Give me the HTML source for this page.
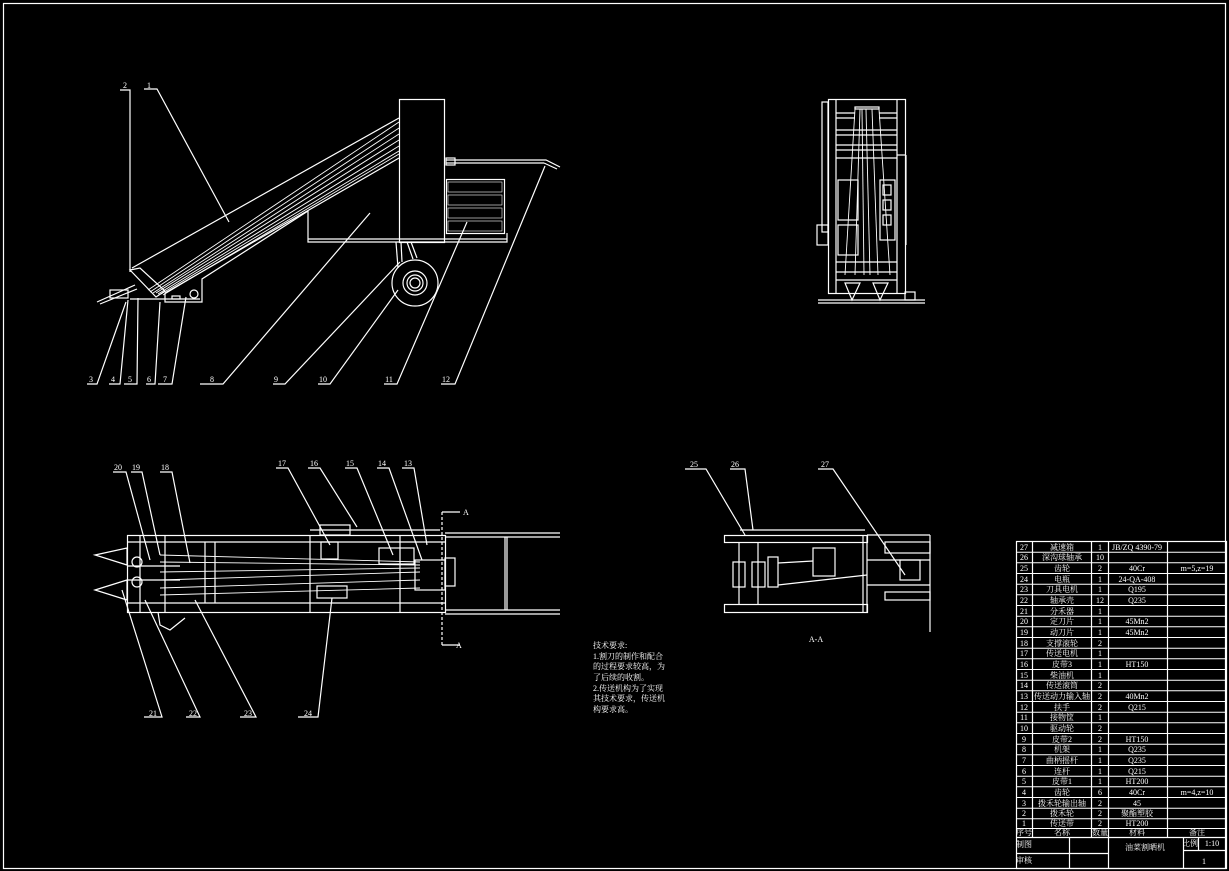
<!DOCTYPE html>
<html><head><meta charset="utf-8"><style>
html,body{margin:0;padding:0;background:#000;}
svg{display:block}
text{font-family:"Liberation Serif","Noto Serif CJK SC","WenQuanYi Zen Hei",serif;fill:#fff;font-size:8px}
.c{text-anchor:middle}
</style></head><body>
<svg width="1229" height="871" viewBox="0 0 1229 871" xmlns="http://www.w3.org/2000/svg">
<g stroke="#fff" stroke-width="1.2" fill="none">
<rect x="3.5" y="3.5" width="1222" height="865"/>

<!-- ===== Side view ===== -->
<rect x="399.5" y="99.5" width="45" height="143"/>
<polyline points="308,211 308,242 507,242 507,233"/>
<line x1="308" y1="239" x2="507" y2="239"/>
<rect x="446.5" y="179.5" width="58" height="54"/>
<g stroke-width="0.6">
<rect x="448" y="182" width="54" height="10"/><rect x="448" y="195" width="54" height="10"/>
<rect x="448" y="208" width="54" height="10"/><rect x="448" y="221" width="54" height="10"/>
</g>
<polyline points="446,160 546,160 560,167"/><line x1="446" y1="163" x2="544" y2="163"/>
<line x1="544" y1="163" x2="557" y2="169"/>
<rect x="446" y="158" width="9" height="7"/>
<line x1="132" y1="268" x2="399" y2="118"/>
<line x1="165" y1="293" x2="399" y2="158"/>
<g stroke-width="0.9">
<line x1="148" y1="290" x2="399" y2="122"/><line x1="150" y1="292" x2="399" y2="128"/>
<line x1="153" y1="293" x2="399" y2="134"/><line x1="156" y1="293" x2="399" y2="140"/>
<line x1="158" y1="294" x2="399" y2="146"/><line x1="161" y1="294" x2="399" y2="151"/>
<line x1="163" y1="295" x2="399" y2="154"/>
</g>
<polygon points="130,270 140,268 165,291 156,297"/>
<polyline points="165,293 165,302 202,302 202,279 308,211"/>
<line x1="97" y1="302" x2="135" y2="285"/><line x1="100" y1="304" x2="137" y2="289"/>
<rect x="110" y="290" width="18" height="8"/>
<line x1="130" y1="299" x2="200" y2="299"/>
<circle cx="194" cy="294" r="4"/><rect x="172" y="296" width="8" height="3"/>
<circle cx="415" cy="283" r="23"/><circle cx="415" cy="283" r="12"/>
<circle cx="415" cy="283" r="8"/><circle cx="415" cy="283" r="5"/>
<line x1="396" y1="242" x2="398" y2="268"/><line x1="401" y1="242" x2="402" y2="262"/>
<line x1="407" y1="242" x2="413" y2="259"/><line x1="411" y1="242" x2="417" y2="258"/>
<polyline points="120,90 130,90 130,272"/>
<polyline points="144,89 157,89 229,222"/>
<polyline points="87,384 97,384 126,302"/>
<polyline points="109,384 120,384 128,300"/>
<polyline points="124,384 137,384 138,298"/>
<polyline points="146,384 155,384 160,302"/>
<polyline points="158,384 172,384 186,297"/>
<polyline points="200,384 223,384 370,213"/>
<polyline points="273,384 285,384 400,262"/>
<polyline points="318,384 330,384 398,290"/>
<polyline points="384,384 397,384 467,222"/>
<polyline points="441,384 455,384 545,166"/>

<!-- ===== Upper right view ===== -->
<rect x="828.5" y="99.5" width="77" height="194"/>
<line x1="836" y1="99" x2="836" y2="294"/><line x1="897" y1="99" x2="897" y2="294"/>
<rect x="855" y="107" width="24" height="2"/>
<line x1="836" y1="113" x2="855" y2="113"/><line x1="879" y1="113" x2="897" y2="113"/>
<line x1="836" y1="118" x2="855" y2="118"/><line x1="879" y1="118" x2="897" y2="118"/>
<line x1="836" y1="130" x2="897" y2="130"/><line x1="836" y1="135" x2="897" y2="135"/>
<line x1="836" y1="145" x2="897" y2="145"/><line x1="836" y1="150" x2="897" y2="150"/>
<line x1="836" y1="158" x2="897" y2="158"/>
<rect x="838" y="180" width="20" height="40"/><rect x="880" y="180" width="15" height="60"/>
<rect x="838" y="225" width="20" height="30"/>
<rect x="883" y="185" width="8" height="10"/><rect x="883" y="200" width="8" height="10"/><rect x="883" y="215" width="8" height="10"/>
<line x1="897" y1="155" x2="906" y2="155"/><line x1="906" y1="155" x2="906" y2="245"/>
<line x1="836" y1="262" x2="897" y2="262"/><line x1="836" y1="272" x2="897" y2="272"/>
<g stroke-width="0.9">
<line x1="855" y1="109" x2="845" y2="275"/><line x1="860" y1="109" x2="855" y2="275"/>
<line x1="866" y1="109" x2="870" y2="275"/><line x1="872" y1="109" x2="878" y2="275"/>
<line x1="879" y1="109" x2="890" y2="275"/><line x1="862" y1="109" x2="864" y2="275"/>
</g>
<rect x="822" y="102" width="6" height="130"/>
<rect x="817" y="225" width="11" height="20"/>
<polygon points="845,283 860,283 852,300"/><polygon points="873,283 888,283 880,300"/>
<line x1="818" y1="300" x2="925" y2="300"/><line x1="818" y1="303" x2="925" y2="303"/>
<line x1="836" y1="280" x2="897" y2="280"/>
<rect x="905" y="292" width="10" height="8"/>

<!-- ===== Plan view ===== -->
<rect x="127.5" y="535.5" width="318" height="77"/>
<line x1="127" y1="542" x2="445" y2="542"/><line x1="127" y1="603" x2="445" y2="603"/>
<line x1="127" y1="566" x2="180" y2="566"/><line x1="127" y1="580" x2="180" y2="580"/>
<line x1="140" y1="535" x2="140" y2="612"/><line x1="165" y1="535" x2="165" y2="612"/>
<line x1="205" y1="542" x2="205" y2="603"/><line x1="215" y1="542" x2="215" y2="603"/>
<line x1="310" y1="535" x2="310" y2="612"/><line x1="400" y1="535" x2="400" y2="612"/>
<rect x="321" y="542" width="17" height="17"/>
<rect x="379" y="548" width="35" height="16"/>
<rect x="317" y="586" width="30" height="12"/>
<rect x="320" y="525" width="30" height="10"/>
<line x1="310" y1="530" x2="440" y2="530"/>
<rect x="415" y="560" width="30" height="30"/>
<rect x="445" y="558" width="10" height="28"/>
<polygon points="95,555 127,548 127,565"/><polygon points="95,590 127,580 127,600"/>
<circle cx="137" cy="562" r="5"/><circle cx="137" cy="582" r="5"/>
<g stroke-width="0.9">
<line x1="160" y1="555" x2="420" y2="562"/><line x1="160" y1="562" x2="420" y2="565"/>
<line x1="160" y1="572" x2="420" y2="568"/><line x1="160" y1="580" x2="420" y2="572"/>
<line x1="160" y1="588" x2="420" y2="580"/><line x1="160" y1="595" x2="420" y2="588"/>
</g>
<line x1="445" y1="533" x2="560" y2="533"/><line x1="445" y1="537" x2="560" y2="537"/>
<line x1="445" y1="610" x2="560" y2="610"/><line x1="445" y1="614" x2="560" y2="614"/>
<line x1="505" y1="537" x2="505" y2="610"/><line x1="507" y1="537" x2="507" y2="610"/>
<polyline points="158,612 160,625 170,630 185,618"/>
<line x1="442" y1="512" x2="442" y2="645" stroke-dasharray="3,2"/>
<line x1="442" y1="512" x2="460" y2="512"/><line x1="442" y1="645" x2="460" y2="645"/>
<polyline points="113,472 126,472 150,560"/>
<polyline points="131,472 142,472 160,555"/>
<polyline points="160,472 172,472 190,563"/>
<polyline points="276,468 288,468 330,545"/>
<polyline points="308,468 320,468 357,527"/>
<polyline points="345,468 357,468 393,555"/>
<polyline points="377,468 389,468 422,560"/>
<polyline points="402,468 414,468 427,545"/>
<polyline points="144,717 162,717 122,590"/>
<polyline points="186,717 200,717 145,600"/>
<polyline points="240,717 256,717 195,600"/>
<polyline points="298,717 318,717 332,598"/>

<!-- ===== A-A view ===== -->
<rect x="724.5" y="535.5" width="143" height="7"/>
<rect x="724.5" y="604.5" width="143" height="8"/>
<line x1="867" y1="535" x2="867" y2="612"/><line x1="863" y1="535" x2="863" y2="612"/>
<rect x="885" y="542" width="45" height="11"/><rect x="885" y="592" width="45" height="8"/>
<line x1="867" y1="535" x2="930" y2="535"/><line x1="930" y1="535" x2="930" y2="632"/>
<rect x="733" y="562" width="12" height="25"/><rect x="752" y="562" width="13" height="25"/>
<line x1="739" y1="542" x2="739" y2="604"/><line x1="758" y1="542" x2="758" y2="604"/>
<rect x="768" y="557" width="10" height="30"/>
<rect x="813" y="548" width="22" height="28"/>
<line x1="778" y1="563" x2="813" y2="561"/><line x1="778" y1="585" x2="867" y2="575"/>
<line x1="867" y1="560" x2="930" y2="560"/><line x1="867" y1="585" x2="930" y2="585"/>
<rect x="900" y="560" width="20" height="20"/>
<line x1="740" y1="530" x2="865" y2="530"/>
<polyline points="685,469 706,469 745,535"/>
<polyline points="730,469 745,469 753,530"/>
<polyline points="818,469 833,469 905,575"/>

<!-- ===== Table ===== -->
<rect x="1016.5" y="541.5" width="210" height="327"/>
<line x1="1032.5" y1="541" x2="1032.5" y2="837"/>
<line x1="1091.5" y1="541" x2="1091.5" y2="837"/>
<line x1="1108.5" y1="541" x2="1108.5" y2="868"/>
<line x1="1167.5" y1="541" x2="1167.5" y2="837"/>
<line x1="1016" y1="837.5" x2="1227" y2="837.5"/>
<line x1="1016" y1="853.5" x2="1108" y2="853.5"/>
<line x1="1069.5" y1="837" x2="1069.5" y2="868"/>
<line x1="1183.5" y1="837" x2="1183.5" y2="868"/>
<line x1="1183" y1="850.5" x2="1227" y2="850.5"/>
<line x1="1198.5" y1="837" x2="1198.5" y2="850"/>
</g>
<g stroke="#fff" stroke-width="1">
<line x1="1016" y1="552.2" x2="1227" y2="552.2"/><line x1="1016" y1="562.8" x2="1227" y2="562.8"/>
<line x1="1016" y1="573.5" x2="1227" y2="573.5"/><line x1="1016" y1="584.2" x2="1227" y2="584.2"/>
<line x1="1016" y1="594.8" x2="1227" y2="594.8"/><line x1="1016" y1="605.5" x2="1227" y2="605.5"/>
<line x1="1016" y1="616.2" x2="1227" y2="616.2"/><line x1="1016" y1="626.8" x2="1227" y2="626.8"/>
<line x1="1016" y1="637.5" x2="1227" y2="637.5"/><line x1="1016" y1="648.2" x2="1227" y2="648.2"/>
<line x1="1016" y1="658.8" x2="1227" y2="658.8"/><line x1="1016" y1="669.5" x2="1227" y2="669.5"/>
<line x1="1016" y1="680.2" x2="1227" y2="680.2"/><line x1="1016" y1="690.8" x2="1227" y2="690.8"/>
<line x1="1016" y1="701.5" x2="1227" y2="701.5"/><line x1="1016" y1="712.2" x2="1227" y2="712.2"/>
<line x1="1016" y1="722.8" x2="1227" y2="722.8"/><line x1="1016" y1="733.5" x2="1227" y2="733.5"/>
<line x1="1016" y1="744.2" x2="1227" y2="744.2"/><line x1="1016" y1="754.8" x2="1227" y2="754.8"/>
<line x1="1016" y1="765.5" x2="1227" y2="765.5"/><line x1="1016" y1="776.2" x2="1227" y2="776.2"/>
<line x1="1016" y1="786.8" x2="1227" y2="786.8"/><line x1="1016" y1="797.5" x2="1227" y2="797.5"/>
<line x1="1016" y1="808.2" x2="1227" y2="808.2"/><line x1="1016" y1="818.8" x2="1227" y2="818.8"/>
<line x1="1016" y1="828.5" x2="1227" y2="828.5"/>
</g>

<text x="125" y="88" class="c">2</text><text x="149" y="88" class="c">1</text>
<text x="91" y="382" class="c">3</text><text x="113" y="382" class="c">4</text>
<text x="130" y="382" class="c">5</text><text x="149" y="382" class="c">6</text>
<text x="165" y="382" class="c">7</text><text x="212" y="382" class="c">8</text>
<text x="276" y="382" class="c">9</text><text x="323" y="382" class="c">10</text>
<text x="389" y="382" class="c">11</text><text x="446" y="382" class="c">12</text>
<text x="118" y="470" class="c">20</text><text x="136" y="470" class="c">19</text>
<text x="165" y="470" class="c">18</text><text x="282" y="466" class="c">17</text>
<text x="314" y="466" class="c">16</text><text x="350" y="466" class="c">15</text>
<text x="382" y="466" class="c">14</text><text x="408" y="466" class="c">13</text>
<text x="153" y="716" class="c">21</text><text x="193" y="716" class="c">22</text>
<text x="248" y="716" class="c">23</text><text x="308" y="716" class="c">24</text>
<text x="463" y="515" font-size="7">A</text><text x="456" y="648" font-size="7">A</text>
<text x="694" y="467" class="c">25</text><text x="735" y="467" class="c">26</text>
<text x="825" y="467" class="c">27</text>
<text x="816" y="642" class="c" font-size="7">A-A</text>
<g font-size="8">
<text x="593" y="648">技术要求:</text>
<text x="593" y="659">1.割刀的制作和配合</text>
<text x="593" y="669">的过程要求较高，为</text>
<text x="593" y="680">了后续的收割。</text>
<text x="593" y="691">2.传送机构为了实现</text>
<text x="593" y="701">其技术要求，传送机</text>
<text x="593" y="712">构要求高。</text>
</g>
<g font-size="7.5">
<text x="1024" y="550" class="c">27</text><text x="1062" y="550" class="c">减速箱</text><text x="1100" y="550" class="c">1</text><text x="1137" y="550" class="c">JB/ZQ 4390-79</text>
<text x="1024" y="560" class="c">26</text><text x="1062" y="560" class="c">深沟球轴承</text><text x="1100" y="560" class="c">10</text>
<text x="1024" y="571" class="c">25</text><text x="1062" y="571" class="c">齿轮</text><text x="1100" y="571" class="c">2</text><text x="1137" y="571" class="c">40Cr</text><text x="1197" y="571" class="c">m=5,z=19</text>
<text x="1024" y="582" class="c">24</text><text x="1062" y="582" class="c">电瓶</text><text x="1100" y="582" class="c">1</text><text x="1137" y="582" class="c">24-QA-408</text>
<text x="1024" y="592" class="c">23</text><text x="1062" y="592" class="c">刀具电机</text><text x="1100" y="592" class="c">1</text><text x="1137" y="592" class="c">Q195</text>
<text x="1024" y="603" class="c">22</text><text x="1062" y="603" class="c">轴承壳</text><text x="1100" y="603" class="c">12</text><text x="1137" y="603" class="c">Q235</text>
<text x="1024" y="614" class="c">21</text><text x="1062" y="614" class="c">分禾器</text><text x="1100" y="614" class="c">1</text>
<text x="1024" y="624" class="c">20</text><text x="1062" y="624" class="c">定刀片</text><text x="1100" y="624" class="c">1</text><text x="1137" y="624" class="c">45Mn2</text>
<text x="1024" y="635" class="c">19</text><text x="1062" y="635" class="c">动刀片</text><text x="1100" y="635" class="c">1</text><text x="1137" y="635" class="c">45Mn2</text>
<text x="1024" y="646" class="c">18</text><text x="1062" y="646" class="c">支撑滚轮</text><text x="1100" y="646" class="c">2</text>
<text x="1024" y="656" class="c">17</text><text x="1062" y="656" class="c">传送电机</text><text x="1100" y="656" class="c">1</text>
<text x="1024" y="667" class="c">16</text><text x="1062" y="667" class="c">皮带3</text><text x="1100" y="667" class="c">1</text><text x="1137" y="667" class="c">HT150</text>
<text x="1024" y="678" class="c">15</text><text x="1062" y="678" class="c">柴油机</text><text x="1100" y="678" class="c">1</text>
<text x="1024" y="688" class="c">14</text><text x="1062" y="688" class="c">传送滚筒</text><text x="1100" y="688" class="c">2</text>
<text x="1024" y="699" class="c">13</text><text x="1062" y="699" class="c">传送动力输入轴</text><text x="1100" y="699" class="c">2</text><text x="1137" y="699" class="c">40Mn2</text>
<text x="1024" y="710" class="c">12</text><text x="1062" y="710" class="c">扶手</text><text x="1100" y="710" class="c">2</text><text x="1137" y="710" class="c">Q215</text>
<text x="1024" y="720" class="c">11</text><text x="1062" y="720" class="c">接物筐</text><text x="1100" y="720" class="c">1</text>
<text x="1024" y="731" class="c">10</text><text x="1062" y="731" class="c">驱动轮</text><text x="1100" y="731" class="c">2</text>
<text x="1024" y="742" class="c">9</text><text x="1062" y="742" class="c">皮带2</text><text x="1100" y="742" class="c">2</text><text x="1137" y="742" class="c">HT150</text>
<text x="1024" y="752" class="c">8</text><text x="1062" y="752" class="c">机架</text><text x="1100" y="752" class="c">1</text><text x="1137" y="752" class="c">Q235</text>
<text x="1024" y="763" class="c">7</text><text x="1062" y="763" class="c">曲柄摇杆</text><text x="1100" y="763" class="c">1</text><text x="1137" y="763" class="c">Q235</text>
<text x="1024" y="774" class="c">6</text><text x="1062" y="774" class="c">连杆</text><text x="1100" y="774" class="c">1</text><text x="1137" y="774" class="c">Q215</text>
<text x="1024" y="784" class="c">5</text><text x="1062" y="784" class="c">皮带1</text><text x="1100" y="784" class="c">1</text><text x="1137" y="784" class="c">HT200</text>
<text x="1024" y="795" class="c">4</text><text x="1062" y="795" class="c">齿轮</text><text x="1100" y="795" class="c">6</text><text x="1137" y="795" class="c">40Cr</text><text x="1197" y="795" class="c">m=4,z=10</text>
<text x="1024" y="806" class="c">3</text><text x="1062" y="806" class="c">拨禾轮输出轴</text><text x="1100" y="806" class="c">2</text><text x="1137" y="806" class="c">45</text>
<text x="1024" y="816" class="c">2</text><text x="1062" y="816" class="c">拨禾轮</text><text x="1100" y="816" class="c">2</text><text x="1137" y="816" class="c">聚酯塑胶</text>
<text x="1024" y="826" class="c">1</text><text x="1062" y="826" class="c">传送带</text><text x="1100" y="826" class="c">2</text><text x="1137" y="826" class="c">HT200</text>
<text x="1024" y="835" class="c">序号</text><text x="1062" y="835" class="c">名称</text><text x="1100" y="835" class="c">数量</text><text x="1137" y="835" class="c">材料</text><text x="1197" y="835" class="c">备注</text>
<text x="1024" y="847" class="c">制图</text><text x="1024" y="863" class="c">审核</text>
<text x="1145" y="850" class="c" font-size="7">油菜割晒机</text>
<text x="1190" y="846" class="c">比例</text><text x="1212" y="846" class="c">1:10</text>
</g>
<text x="1204" y="864" class="c" font-size="12">1</text>
</svg>
</body></html>
